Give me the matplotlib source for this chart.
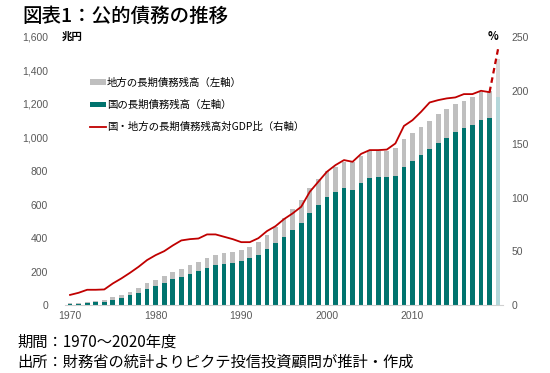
import numpy as np
import matplotlib.pyplot as plt

plt.rcParams['font.family'] = ['Noto Sans CJK JP', 'DejaVu Sans']

# fiscal years 1970-2020 (2020 shown as estimate)
years = np.arange(1970, 2021)

# 国の長期債務残高 (兆円)
national = [6, 6, 12, 16, 20, 30, 42, 60, 74, 98,
            117, 131, 153, 169, 187, 201, 224, 237, 245, 253,
            265, 279, 300, 336, 368, 408, 450, 490, 549, 597,
            643, 673, 697, 688, 730, 756, 762, 766, 768, 822,
            862, 896, 933, 969, 999, 1035, 1057, 1075, 1104, 1118,
            1244]
# 地方の長期債務残高 (兆円)
local = [4, 5, 6, 8, 8, 18, 18, 20, 27, 31,
         32, 42, 44, 48, 50, 56, 55, 60, 64, 63,
         65, 67, 76, 82, 96, 110, 121, 137, 149, 155,
         157, 151, 159, 166, 160, 163, 157, 153, 167, 167,
         167, 165, 167, 171, 173, 167, 163, 167, 166, 162,
         225]
# 国・地方の長期債務残高対GDP比 (%)
ratio = [9.5, 11.5, 14.3, 14.3, 14.6, 20.2, 24.9, 30.1, 35.7, 42.0,
         46.6, 50.3, 55.6, 60.3, 61.5, 62.1, 65.9, 65.9, 63.7, 61.5,
         58.7, 58.7, 62.4, 69.0, 73.6, 80.2, 85.5, 91.7, 105.6, 115.0,
         124.3, 130.5, 135.2, 133.6, 141.0, 144.5, 144.5, 145.0, 150.7, 167.0,
         172.4, 180.2, 188.9, 191.1, 192.7, 193.6, 196.7, 196.7, 199.8, 198.5,
         239.0]

teal = '#00736e'
grey = '#bfbfbf'
red = '#c00000'
tick_col = '#595959'

national = np.array(national)
local = np.array(local)
ratio = np.array(ratio)

fig = plt.figure(figsize=(5.5, 3.73), dpi=100)
ax = fig.add_axes([0.118, 0.182, 0.797, 0.719])
ax2 = ax.twinx()

nat_colors = [teal] * (len(years) - 1) + ['#b4d7da']
loc_colors = [grey] * (len(years) - 1) + ['#d9d9d9']
w = 0.55
ax.bar(years, national, width=w, color=nat_colors, label='国の長期債務残高（左軸）', zorder=2)
ax.bar(years, local, width=w, bottom=national, color=loc_colors,
       label='地方の長期債務残高（左軸）', zorder=2)

ax2.plot(years[:-1], ratio[:-1], color=red, lw=1.3, label='国・地方の長期債務残高対GDP比（右軸）')
ax2.plot(years[-2:], ratio[-2:], color=red, lw=1.6, ls=(0, (2.5, 1.8)))

ax.set_xlim(1969.4, 2020.6)
ax.set_ylim(0, 1600)
ax2.set_ylim(0, 250)

ax.set_yticks(np.arange(0, 1601, 200))
ax.set_yticklabels([f'{v:,}' for v in range(0, 1601, 200)])
ax2.set_yticks(np.arange(0, 251, 50))
ax.set_xticks([1970, 1980, 1990, 2000, 2010])

for a in (ax, ax2):
    for s in a.spines.values():
        s.set_visible(False)
ax.spines['bottom'].set_visible(True)
ax.spines['bottom'].set_color('#d0d0d0')
ax.tick_params(axis='both', length=0, colors=tick_col, labelsize=7.5)
ax.tick_params(axis='y', pad=12)
ax.tick_params(axis='x', pad=4)
ax2.tick_params(axis='y', length=0, colors=tick_col, labelsize=7.5, pad=6)
for lab in ax.get_xticklabels() + ax.get_yticklabels() + ax2.get_yticklabels():
    lab.set_family(['Liberation Sans', 'DejaVu Sans'])

# legend: 地方, 国, line
h1, l1 = ax.get_legend_handles_labels()
h2, l2 = ax2.get_legend_handles_labels()
leg = ax.legend([h1[1], h1[0], h2[0]], [l1[1], l1[0], l2[0]],
                loc='upper left', bbox_to_anchor=(0.036, 0.882), frameon=False,
                fontsize=7.5, handlelength=1.5, handleheight=0.5,
                labelspacing=1.15, handletextpad=0.1)
leg.set_zorder(5)

fig.text(0.113, 0.901, '兆円', fontsize=7.5, fontweight='bold', va='center', ha='left')
fig.text(0.897, 0.901, '%', fontsize=8, fontweight='bold', va='center', ha='center')

fig.text(0.04, 0.955, '図表1：公的債務の推移', fontsize=14, fontweight='medium',
         va='center', ha='left')
fig.text(0.032, 0.083, '期間：1970～2020年度', fontsize=11, va='center', ha='left')
fig.text(0.032, 0.030, '出所：財務省の統計よりピクテ投信投資顧問が推計・作成', fontsize=11,
         va='center', ha='left')

fig.savefig('out.png', dpi=100)
